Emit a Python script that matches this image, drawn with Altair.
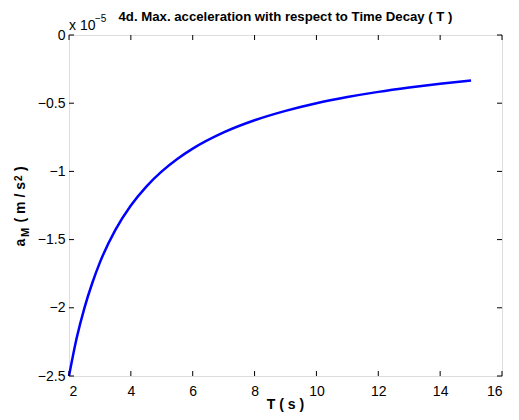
import altair as alt
import pandas as pd

# Data (acceleration in units of 1e-5 m/s^2)
T_values = [2.0, 2.25, 2.5, 2.75, 3.0, 3.5, 4.0, 4.5, 5.0, 5.5, 6.0, 7.0, 8.0, 9.0, 10.0, 11.0, 12.0, 13.0, 14.0, 15.0]
a_values = [-2.5, -2.22, -2.0, -1.82, -1.667, -1.429, -1.25, -1.111, -1.0, -0.909, -0.833, -0.714, -0.625, -0.556, -0.5, -0.455, -0.417, -0.385, -0.357, -0.333]
x_ticks = [2, 4, 6, 8, 10, 12, 14, 16]
y_ticks = [0, -0.5, -1, -1.5, -2, -2.5]

W, H = 433, 341
FONT = "Liberation Sans"

df = pd.DataFrame({"T": T_values, "a": a_values})
xt = pd.DataFrame({"v": x_ticks})
yt = pd.DataFrame({"v": y_ticks})

xscale = alt.Scale(domain=[2, 16], nice=False, zero=False)
yscale = alt.Scale(domain=[-2.5, 0], nice=False, zero=False)

line = alt.Chart(df).mark_line(color="#0000ff", strokeWidth=2.5, interpolate="monotone").encode(
    x=alt.X("T:Q", scale=xscale,
            axis=alt.Axis(values=x_ticks, title=None, ticks=False, domain=False, grid=False,
                          labelFont=FONT, labelFontSize=14, labelColor="black", labelPadding=8,
                          format="~g")),
    y=alt.Y("a:Q", scale=yscale,
            axis=alt.Axis(values=y_ticks, title=None, ticks=False, domain=False, grid=False,
                          labelFont=FONT, labelFontSize=14, labelColor="black", labelPadding=4,
                          format=".2~f")),
)

tick_bottom = alt.Chart(xt).mark_rule(color="black", strokeWidth=1).encode(
    x=alt.X("v:Q", scale=xscale), y=alt.value(H - 5), y2=alt.value(H))
tick_top = alt.Chart(xt).mark_rule(color="black", strokeWidth=1).encode(
    x=alt.X("v:Q", scale=xscale), y=alt.value(0), y2=alt.value(5))
tick_left = alt.Chart(yt).mark_rule(color="black", strokeWidth=1).encode(
    y=alt.Y("v:Q", scale=yscale), x=alt.value(0), x2=alt.value(5))
tick_right = alt.Chart(yt).mark_rule(color="black", strokeWidth=1).encode(
    y=alt.Y("v:Q", scale=yscale), x=alt.value(W - 5), x2=alt.value(W))


def label(txt, x, y, size, bold=False, angle=0, align="left", baseline="alphabetic"):
    return alt.Chart(pd.DataFrame({"t": [txt]})).mark_text(
        font=FONT, fontSize=size, fontWeight="bold" if bold else "normal",
        angle=angle, align=align, baseline=baseline, color="black",
    ).encode(text="t:N", x=alt.value(x), y=alt.value(y))


title = label("4d. Max. acceleration with respect to Time Decay ( T )", W / 2, -18, 13.2, True,
              align="center", baseline="middle")
exp1 = label("x 10", 0, -5, 14)
exp2 = label("\u22125", 26, -13, 10)
xtitle = label("T ( s )", W / 2, 370, 14, True, align="center", baseline="middle")

# y title composed of pieces (rotated, reading bottom to top)
yx = -44
yt1 = label("a", yx, 211.5, 14, True, angle=270)
yt2 = label("M", yx + 3.5, 202, 11, True, angle=270)
yt3 = label("( m / s", yx, 187.5, 14, True, angle=270)
yt4 = label("2", yx - 3, 146, 10, True, angle=270)
yt5 = label(")", yx, 136, 14, True, angle=270)

chart = alt.layer(
    line, tick_bottom, tick_top, tick_left, tick_right,
    title, exp1, exp2, xtitle, yt1, yt2, yt3, yt4, yt5,
).properties(
    width=W, height=H,
    autosize=alt.AutoSizeParams(type="none"),
    padding={"left": 61, "top": 27, "right": 9, "bottom": 36},
).configure_view(stroke="black", strokeWidth=1.2).configure(background="white")

chart.save("out.html", embed_options={"renderer": "svg", "actions": False})
